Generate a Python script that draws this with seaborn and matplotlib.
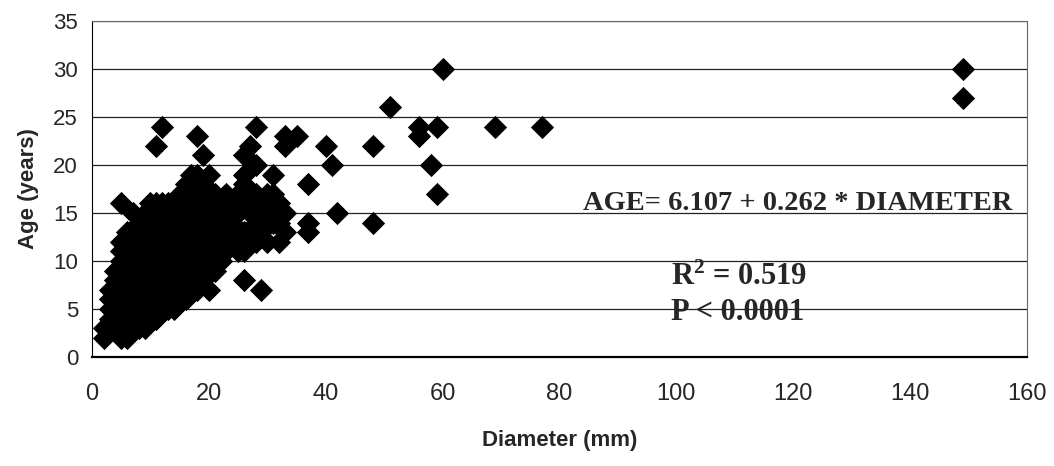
import matplotlib
matplotlib.use("Agg")
import matplotlib.pyplot as plt
import seaborn as sns
import pandas as pd

diameter_mm = [
    2, 2,
    3, 3, 3, 3,
    4, 4, 4, 4, 4, 4, 4,
    5, 5, 5, 5, 5, 5, 5, 5, 5, 5, 5, 5,
    6, 6, 6, 6, 6, 6, 6, 6, 6, 6, 6, 6,
    7, 7, 7, 7, 7, 7, 7, 7, 7, 7, 7, 7,
    8, 8, 8, 8, 8, 8, 8, 8, 8, 8, 8, 8,
    9, 9, 9, 9, 9, 9, 9, 9, 9, 9, 9, 9, 9,
    10, 10, 10, 10, 10, 10, 10, 10, 10, 10, 10, 10, 10,
    11, 11, 11, 11, 11, 11, 11, 11, 11, 11, 11, 11, 11, 11,
    12, 12, 12, 12, 12, 12, 12, 12, 12, 12, 12, 12, 12,
    13, 13, 13, 13, 13, 13, 13, 13, 13, 13, 13, 13,
    14, 14, 14, 14, 14, 14, 14, 14, 14, 14, 14, 14,
    15, 15, 15, 15, 15, 15, 15, 15, 15, 15, 15, 15,
    16, 16, 16, 16, 16, 16, 16, 16, 16, 16, 16, 16, 16,
    17, 17, 17, 17, 17, 17, 17, 17, 17, 17, 17, 17, 17,
    18, 18, 18, 18, 18, 18, 18, 18, 18, 18, 18, 18, 18, 18,
    19, 19, 19, 19, 19, 19, 19, 19, 19, 19, 19, 19,
    20, 20, 20, 20, 20, 20, 20, 20, 20, 20, 20,
    21, 21, 21, 21, 21, 21, 21, 21, 21,
    22, 22, 22, 22, 22, 22, 22,
    23, 23, 23, 23,
    24, 24, 24,
    25, 25, 25, 25,
    26, 26, 26, 26, 26, 26, 26,
    27, 27, 27,
    28, 28, 28, 28, 28,
    29, 29, 29,
    30, 30, 30,
    31, 31, 31,
    32, 32, 32,
    33, 33, 33, 33,
    35, 37, 37, 37, 40, 41, 42, 48, 48,
    51, 56, 56, 58, 59, 59, 60, 69, 77,
    149, 149,
]
age_years = [
    2, 3,
    4, 5, 6, 7,
    3, 4, 5, 6, 7, 8, 9,
    2, 3, 4, 5, 6, 7, 8, 9, 10, 11, 12, 16,
    2, 3, 4, 5, 6, 7, 8, 9, 10, 11, 12, 13,
    3, 4, 5, 6, 7, 8, 9, 10, 11, 12, 13, 15,
    3, 4, 5, 6, 7, 8, 9, 10, 11, 12, 13, 14,
    3, 4, 5, 6, 7, 8, 9, 10, 11, 12, 13, 14, 15,
    4, 5, 6, 7, 8, 9, 10, 11, 12, 13, 14, 15, 16,
    4, 5, 6, 7, 8, 9, 10, 11, 12, 13, 14, 15, 16, 22,
    5, 6, 7, 8, 9, 10, 11, 12, 13, 14, 15, 16, 24,
    5, 6, 7, 8, 9, 10, 11, 12, 13, 14, 15, 16,
    5, 6, 7, 8, 9, 10, 11, 12, 13, 14, 15, 16,
    6, 7, 8, 9, 10, 11, 12, 13, 14, 15, 16, 17,
    6, 7, 8, 9, 10, 11, 12, 13, 14, 15, 16, 17, 18,
    7, 8, 9, 10, 11, 12, 13, 14, 15, 16, 17, 18, 19,
    7, 8, 9, 10, 11, 12, 13, 14, 15, 16, 17, 18, 19, 23,
    8, 9, 10, 11, 12, 13, 14, 15, 16, 17, 18, 21,
    7, 9, 10, 11, 12, 13, 14, 15, 16, 17, 19,
    9, 10, 11, 12, 13, 14, 15, 16, 17,
    10, 11, 12, 13, 14, 15, 16,
    11, 13, 15, 17,
    12, 14, 16,
    11, 13, 15, 17,
    8, 11, 13, 16, 18, 19, 21,
    12, 15, 22,
    12, 14, 17, 20, 24,
    7, 13, 16,
    12, 15, 17,
    14, 17, 19,
    12, 14, 16,
    13, 15, 22, 23,
    23, 18, 14, 13, 22, 20, 15, 22, 14,
    26, 24, 23, 20, 24, 17, 30, 24, 24,
    30, 27,
]

x_ticks = [0, 20, 40, 60, 80, 100, 120, 140, 160]
y_ticks = [0, 5, 10, 15, 20, 25, 30, 35]

df = pd.DataFrame({"diameter": diameter_mm, "age": age_years})

sns.set_style("white")
plt.rcParams['font.family'] = ['Liberation Sans', 'DejaVu Sans']
# bold serif for the superscript in the R squared note
plt.rcParams['mathtext.fontset'] = 'custom'
plt.rcParams['mathtext.rm'] = 'Liberation Serif:bold'
plt.rcParams['mathtext.it'] = 'Liberation Serif:bold'
plt.rcParams['mathtext.bf'] = 'Liberation Serif:bold'

fig = plt.figure(figsize=(10.54, 4.66), dpi=100)
ax = fig.add_axes([92 / 1054, 1 - 357 / 466, 935 / 1054, 336 / 466])

sns.scatterplot(data=df, x="diameter", y="age", marker="D", color="black",
                s=140, edgecolor="black", linewidth=0, ax=ax, zorder=3)

ax.set_xlim(0, 160)
ax.set_ylim(0, 35)
ax.set_xticks(x_ticks)
ax.set_yticks(y_ticks)
ax.yaxis.grid(True, color="#222222", linewidth=0.9)
ax.set_axisbelow(True)

for side in ["top", "right"]:
    ax.spines[side].set_color("#666666")
    ax.spines[side].set_linestyle((0, (2, 1)))
ax.spines["left"].set_color("black")
ax.spines["bottom"].set_color("black")
ax.spines["bottom"].set_linewidth(1.6)
ax.tick_params(axis="both", direction="out", length=6, width=1, color="black")
ax.tick_params(axis="y", labelsize=16, pad=4)
ax.tick_params(axis="x", labelsize=17, pad=13)

ax.set_xlabel("Diameter (mm)", fontsize=16, fontweight="bold", labelpad=18)
ax.set_ylabel("Age (years)", fontsize=16, fontweight="bold", labelpad=10)

serif = ['Liberation Serif', 'DejaVu Serif']
ax.text(157.5, 15.35, "AGE= 6.107 + 0.262 * DIAMETER", ha="right", va="baseline",
        fontsize=20.5, fontweight="bold", family=serif)
ax.text(99, 7.5, r"R$^{2}$ = 0.519", ha="left", va="baseline",
        fontsize=22, fontweight="bold", family=serif)
ax.text(99, 3.9, "P < 0.0001", ha="left", va="baseline",
        fontsize=22, fontweight="bold", family=serif)

fig.savefig("out.png", dpi=100)
